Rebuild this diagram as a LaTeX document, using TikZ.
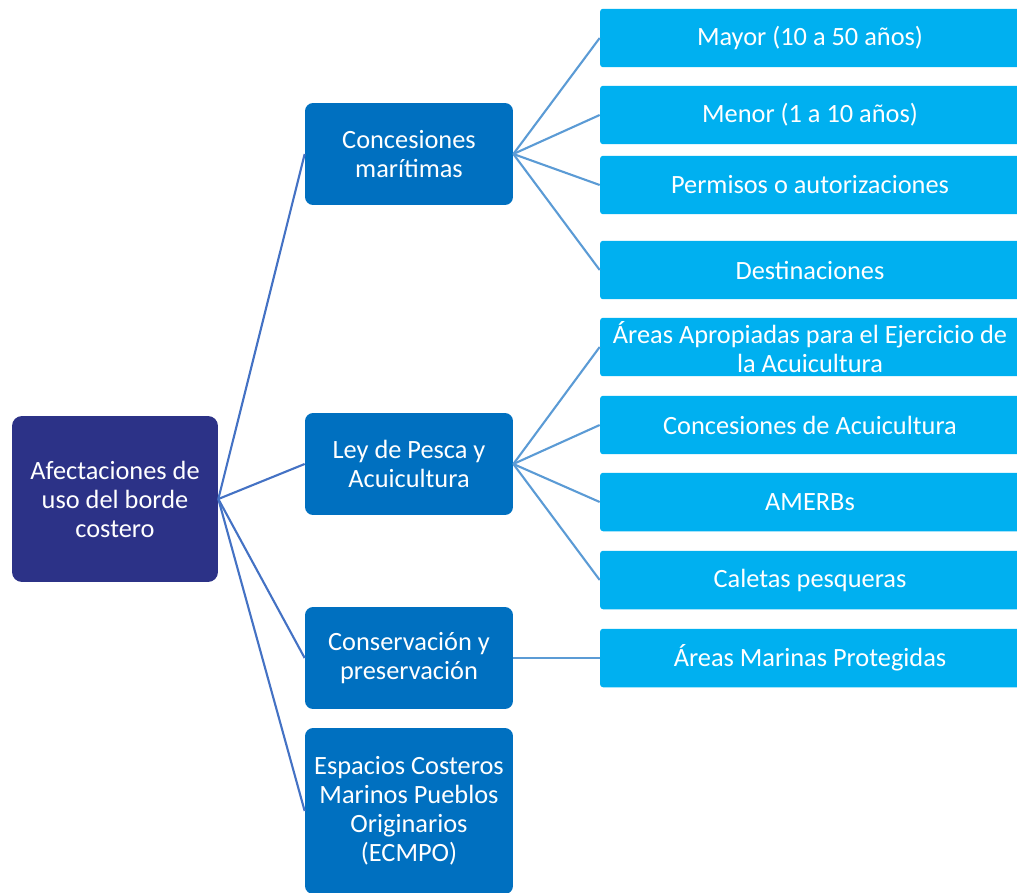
\documentclass[tikz,border=0pt]{standalone}
\usepackage{fontspec}
\setmainfont{Carlito}
\usepackage{tikz}
\usetikzlibrary{calc}

\definecolor{rootblue}{HTML}{2C3287}
\definecolor{midblue}{HTML}{0070C0}
\definecolor{leafblue}{HTML}{00B0F0}
\definecolor{linkdark}{HTML}{4472C4}
\definecolor{linklight}{HTML}{5B9BD5}

\begin{document}
\begin{tikzpicture}[x=0.02cm,y=-0.02cm,
        box/.style={text=white,align=center,inner sep=2pt,
            font=\fontsize{15}{16.5}\selectfont},
        rootbox/.style={box,fill=rootblue,rounded corners=0.2cm,
            minimum width=4.12cm,minimum height=3.32cm},
        midbox/.style={box,fill=midblue,rounded corners=0.16cm,
            minimum width=4.16cm,minimum height=2.04cm},
        leafbox/.style={box,fill=leafblue,rounded corners=0.06cm,
            minimum width=8.4cm,minimum height=1.17cm},
        link/.style={draw=linkdark,line width=1.2pt},
        sublink/.style={draw=linklight,line width=1.2pt}]
        \def\midx{409} % centre of second column
        \def\leafx{810} % centre of third column

        % Picture frame
        \clip (0,0) rectangle (1017,892);

        % Root
        \node[rootbox] (root) at (115,499) {Afectaciones de\\uso del borde\\costero};

        % Second column
        \node[midbox] (conc) at (\midx,154) {Concesiones\\marítimas};
        \node[midbox] (pesca) at (\midx,464) {Ley de Pesca y\\Acuicultura};
        \node[midbox] (cons) at (\midx,658) {Conservación y\\preservación};
        \node[midbox,minimum height=3.32cm] (ecmpo) at (\midx,811) {Espacios Costeros\\Marinos Pueblos\\Originarios\\(ECMPO)};

        % Third column
        \node[leafbox] (mayor) at (\leafx,38) {Mayor (10 a 50 años)};
        \node[leafbox] (menor) at (\leafx,115) {Menor (1 a 10 años)};
        \node[leafbox] (perm) at (\leafx,185) {Permisos o autorizaciones};
        \node[leafbox] (dest) at (\leafx,270) {Destinaciones};
        \node[leafbox] (aaa) at (\leafx,347) {Áreas Apropiadas para el Ejercicio de\\la Acuicultura};
        \node[leafbox] (cacui) at (\leafx,425) {Concesiones de Acuicultura};
        \node[leafbox] (amerb) at (\leafx,502) {AMERBs};
        \node[leafbox] (calet) at (\leafx,580) {Caletas pesqueras};
        \node[leafbox] (amp) at (\leafx,658) {Áreas Marinas Protegidas};

        % Links from the root
        \foreach \n in {conc,pesca,cons,ecmpo}
            \draw[link] (root.east) -- (\n.west);

        % Links to the third column
        \foreach \n in {mayor,menor,perm,dest}
            \draw[sublink] (conc.east) -- (\n.west);
        \foreach \n in {aaa,cacui,amerb,calet}
            \draw[sublink] (pesca.east) -- (\n.west);
        \draw[sublink] (cons.east) -- (amp.west);
    \end{tikzpicture}
\end{document}
